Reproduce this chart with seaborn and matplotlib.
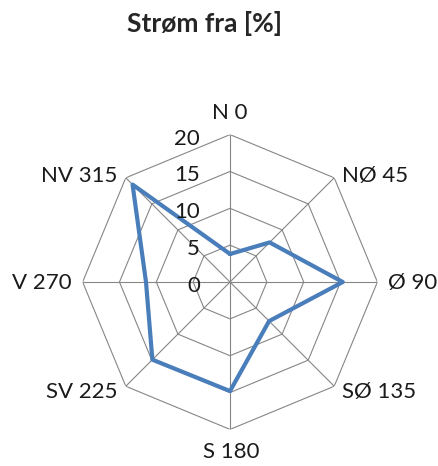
import numpy as np
import pandas as pd
import matplotlib
matplotlib.use('Agg')
import matplotlib.pyplot as plt
import seaborn as sns

# data
directions = ['N 0', 'NØ 45', 'Ø 90', 'SØ 135', 'S 180', 'SV 225', 'V 270', 'NV 315']
degrees = [0, 45, 90, 135, 180, 225, 270, 315]
values = [3.8, 7.6, 15.3, 7.5, 14.8, 14.9, 11.4, 18.7]
ticks = [0, 5, 10, 15, 20]

sns.set_style('white')
plt.rcParams['font.family'] = ['Lato', 'DejaVu Sans']

theta = np.deg2rad(degrees + [360])
df = pd.DataFrame({'theta': theta, 'r': values + values[:1]})

fig = plt.figure(figsize=(4.39, 4.66), dpi=100)
ax = fig.add_axes([0.1882, 0.0785, 0.6715, 0.6326], projection='polar')
ax.set_theta_zero_location('N')
ax.set_theta_direction(-1)
ax.set_ylim(0, 20)
ax.grid(False)
ax.spines['polar'].set_visible(False)
ax.set_xticks([])
ax.set_yticks([])

grid_color = '#868686'
# octagon rings
for t in ticks[1:]:
    ax.plot(theta, [t] * len(theta), color=grid_color, lw=0.8, zorder=1)
# spokes
for a in theta[:-1]:
    ax.plot([a, a], [0, 20], color=grid_color, lw=0.8, zorder=1)

sns.lineplot(data=df, x='theta', y='r', sort=False, ax=ax,
             color='#4A7EBB', linewidth=3, zorder=3)
ax.set_xlabel('')
ax.set_ylabel('')

# direction labels (offsets in pixels from the outer vertex, baseline aligned)
offsets = {
    'N 0': (0, 16, 'center'),
    'NØ 45': (8, -4, 'left'),
    'Ø 90': (11, -7, 'left'),
    'SØ 135': (8, -12, 'left'),
    'S 180': (1, -29, 'center'),
    'SV 225': (-8, -12, 'right'),
    'V 270': (-11, -7, 'right'),
    'NV 315': (-8, -4, 'right'),
}
for lab, a in zip(directions, theta[:-1]):
    dx, dy, ha = offsets[lab]
    ax.annotate(lab, xy=(a, 20), xytext=(dx, dy), textcoords='offset pixels',
                ha=ha, va='baseline', fontsize=16, color='#1a1a1a', annotation_clip=False)

for t in ticks:
    ax.annotate(str(t), xy=(0, t), xytext=(-30, -10), textcoords='offset pixels',
                ha='right', va='baseline', fontsize=16, color='#1a1a1a', annotation_clip=False)

fig.text(204.5 / 439, 1 - 32 / 466, 'Strøm fra [%]', ha='center', va='baseline',
         fontsize=19, fontweight='bold')

fig.savefig('out.png', dpi=100)
